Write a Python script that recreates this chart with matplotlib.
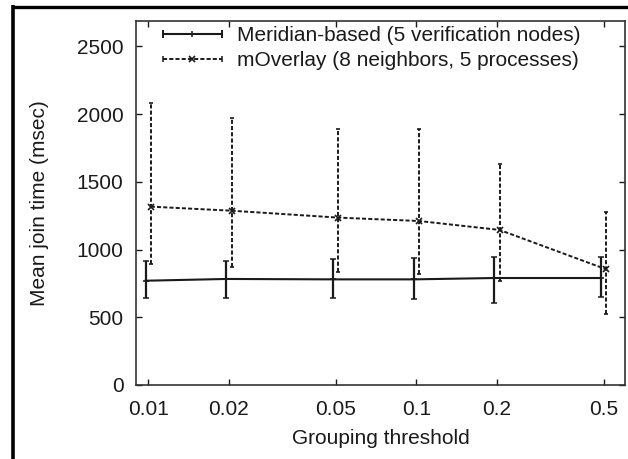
import matplotlib
matplotlib.use("Agg")
import matplotlib.pyplot as plt
import numpy as np
from matplotlib.lines import Line2D
from matplotlib.legend_handler import HandlerLine2D, HandlerTuple

# ---- data ----
thresholds = [0.01, 0.02, 0.05, 0.1, 0.2, 0.5]
xtick_labels = ["0.01", "0.02", "0.05", "0.1", "0.2", "0.5"]
yticks = [0, 500, 1000, 1500, 2000, 2500]

meridian_mean = [770, 783, 780, 780, 790, 790]
meridian_low = [645, 645, 640, 637, 603, 648]
meridian_high = [918, 918, 933, 938, 948, 948]

moverlay_mean = [1317, 1287, 1236, 1211, 1145, 854]
moverlay_low = [891, 869, 837, 820, 768, 522]
moverlay_high = [2085, 1970, 1891, 1888, 1632, 1280]

label_meridian = "Meridian-based (5 verification nodes)"
label_moverlay = "mOverlay (8 neighbors, 5 processes)"

# ---- style ----
plt.rcParams['font.family'] = ['Liberation Sans', 'DejaVu Sans']
INK = '#1a1a1a'
FS = 15

fig = plt.figure(figsize=(6.28, 4.59), dpi=100)
ax = fig.add_axes([136/628, 1-385/459, (625-136)/628, (385-20.7)/459])

x = np.array(thresholds)
mm = np.array(meridian_mean); ml = np.array(meridian_low); mh = np.array(meridian_high)
om = np.array(moverlay_mean); ol = np.array(moverlay_low); oh = np.array(moverlay_high)

dash = (0, (2.1, 1.1))

eb1 = ax.errorbar(x*0.978, mm, yerr=[mm-ml, mh-mm], color=INK, lw=1.5,
                  elinewidth=1.6, capsize=2.2, capthick=1.6,
                  marker='+', ms=5, mew=1.1)
eb2 = ax.errorbar(x*1.022, om, yerr=[om-ol, oh-om], color=INK, lw=1.4,
                  elinewidth=1.4, capsize=1.4, capthick=1.4,
                  marker='x', ms=4.5, mew=1.2, linestyle=dash)
for lc in eb2[2]:
    lc.set_linestyle(dash)

ax.set_xscale('log')
ax.set_xlim(0.009, 0.6)
ax.set_ylim(0, 2690)
ax.set_xticks(thresholds)
ax.set_xticklabels(xtick_labels)
ax.xaxis.set_minor_locator(matplotlib.ticker.NullLocator())
ax.set_yticks(yticks)
ax.tick_params(which='both', direction='in', top=True, right=True,
               length=4, width=1.0, color=INK, labelsize=FS, labelcolor=INK)
ax.tick_params(axis='x', pad=11)
ax.tick_params(axis='y', pad=9)
for s in ax.spines.values():
    s.set_linewidth(1.2)
    s.set_color('#333333')

ax.set_xlabel("Grouping threshold", fontsize=FS, color=INK, labelpad=7)
ax.set_ylabel("Mean join time (msec)", fontsize=FS, color=INK)
ax.yaxis.set_label_coords((49-136)/489, 0.5)

# legend handles in gnuplot style: line with end caps and a centre marker
capA = Line2D([], [], ls='none', marker='|', ms=6, mew=1.4, color=INK)
lineA = Line2D([], [], ls='-', lw=1.5, marker='+', ms=5, mew=1.1, color=INK)
capB = Line2D([], [], ls='none', marker='|', ms=4, mew=1.1, color=INK)
lineB = Line2D([], [], ls=dash, lw=1.4, marker='x', ms=4.5, mew=1.2, color=INK)
hmap = {capA: HandlerLine2D(numpoints=2, marker_pad=0),
        capB: HandlerLine2D(numpoints=2, marker_pad=0),
        lineA: HandlerLine2D(numpoints=1),
        lineB: HandlerLine2D(numpoints=1)}
leg = ax.legend([(capA, lineA), (capB, lineB)], [label_meridian, label_moverlay],
                handler_map={**hmap, tuple: HandlerTuple(ndivide=1, pad=0)},
                loc='upper left', bbox_to_anchor=(0.045, 1.0), frameon=False,
                fontsize=FS, handlelength=2.8, handletextpad=0.76,
                labelspacing=0.29, borderaxespad=0.0, borderpad=0.25)
for t in leg.get_texts():
    t.set_color(INK)

# page border (top and left)
fig.add_artist(Line2D([13/628, 13/628], [0, 1-5/459], transform=fig.transFigure,
                      color='black', lw=2.6, solid_capstyle='butt'))
fig.add_artist(Line2D([11.5/628, 1], [1-6.7/459, 1-6.7/459], transform=fig.transFigure,
                      color='black', lw=2.4, solid_capstyle='butt'))

fig.savefig("out.png", dpi=100)
